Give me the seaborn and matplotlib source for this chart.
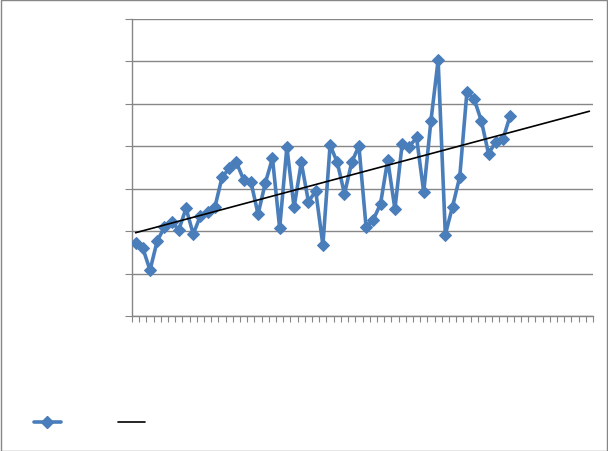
import numpy as np
import pandas as pd
import matplotlib
matplotlib.use('Agg')
import matplotlib.pyplot as plt
import seaborn as sns
from matplotlib.lines import Line2D
from matplotlib.patches import Rectangle

# values (53 periods, axis has 64 slots)
periods = list(range(1, 54))
values = [1.72, 1.60, 1.08, 1.77, 2.09, 2.22, 2.03, 2.54, 1.93, 2.36,
          2.46, 2.56, 3.27, 3.48, 3.62, 3.21, 3.17, 2.40, 3.13, 3.72,
          2.07, 3.98, 2.56, 3.62, 2.69, 2.95, 1.67, 4.03, 3.62, 2.88,
          3.62, 4.01, 2.09, 2.27, 2.64, 3.68, 2.52, 4.05, 3.99, 4.21,
          2.92, 4.60, 6.03, 1.92, 2.58, 3.28, 5.29, 5.11, 4.60, 3.82,
          4.11, 4.17, 4.72]
n_slots = 64
y_max = 7

df = pd.DataFrame({"period": periods, "value": values})

# linear trend, forecast forward to the end of the axis
coef = np.polyfit(df["period"], df["value"], 1)
trend_x = np.arange(1, n_slots + 1)
trend_df = pd.DataFrame({"period": trend_x, "trend": np.polyval(coef, trend_x)})

sns.set_style("white")
fig = plt.figure(figsize=(6.08, 4.52), dpi=100)
ax = fig.add_axes([132 / 608, 1 - 317 / 452, (593 - 132) / 608, (317 - 20) / 452])

blue = "#4A7EBB"
grid_col = "#868686"

sns.lineplot(data=df, x="period", y="value", ax=ax, color=blue, linewidth=2.6,
             marker="D", markersize=6, markeredgecolor=blue, zorder=3)
sns.lineplot(data=trend_df, x="period", y="trend", ax=ax, color="black",
             linewidth=1.2, zorder=4)

ax.set_xlim(0.5, n_slots + 0.5)
ax.set_ylim(0, y_max)
ax.set_xticks(np.arange(0.5, n_slots + 1, 1))
ax.set_yticks(range(0, y_max + 1))
ax.set_xticklabels([])
ax.set_yticklabels([])
ax.set_xlabel("")
ax.set_ylabel("")
ax.yaxis.grid(True, color=grid_col, linewidth=1)
ax.set_axisbelow(True)
ax.tick_params(axis="x", direction="out", length=4, width=0.8, color=grid_col, bottom=True)
ax.tick_params(axis="y", direction="out", length=5, width=0.8, color=grid_col, left=True)
for side in ["top", "right"]:
    ax.spines[side].set_visible(False)
for side in ["left", "bottom"]:
    ax.spines[side].set_color(grid_col)
    ax.spines[side].set_linewidth(1)

handles = [Line2D([], [], color=blue, linewidth=2.6, marker="D", markersize=6),
           Line2D([], [], color="black", linewidth=1.2)]
fig.legend(handles, ["", ""], loc="center left", bbox_to_anchor=(28 / 608, 1 - 424 / 452),
           ncol=2, frameon=False, handlelength=1.95, handletextpad=2.0,
           columnspacing=2.1, borderaxespad=0)

fig.patches.append(Rectangle((0.5 / 608, 0.5 / 452), 1 - 1.5 / 608, 1 - 1.5 / 452,
                             transform=fig.transFigure, fill=False,
                             edgecolor=grid_col, linewidth=1))

fig.savefig("out.png", dpi=100)
